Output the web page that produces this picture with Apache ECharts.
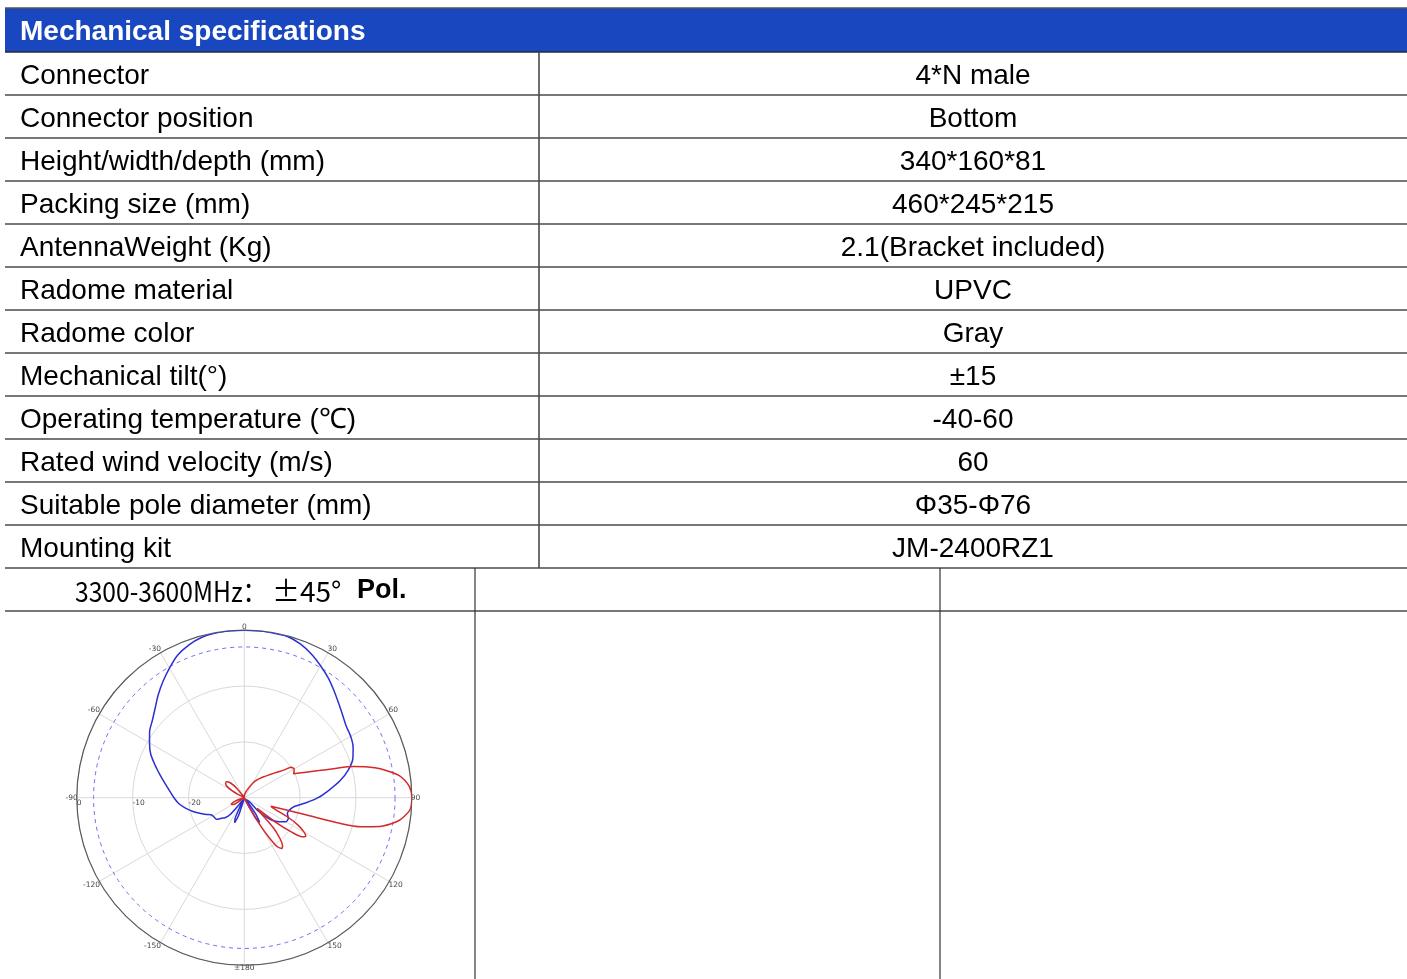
<!DOCTYPE html>
<html>
<head>
<meta charset="utf-8">
<script src="https://cdn.jsdelivr.net/npm/echarts@6/dist/echarts.min.js"></script>
<style>
html,body{margin:0;padding:0;background:#fff;}
#main{width:1407px;height:979px;}
</style>
</head>
<body>
<div id="main"></div>
<script>
// ---------- table text ----------
const tableTitle = 'Mechanical specifications';
const specLabels = [
  'Connector', 'Connector position', 'Height/width/depth (mm)', 'Packing size (mm)',
  'AntennaWeight (Kg)', 'Radome material', 'Radome color', 'Mechanical tilt(°)',
  'Operating temperature (℃)', 'Rated wind velocity (m/s)', 'Suitable pole diameter (mm)', 'Mounting kit'
];
const specValues = [
  '4*N male', 'Bottom', '340*160*81', '460*245*215',
  '2.1(Bracket included)', 'UPVC', 'Gray', '±15',
  '-40-60', '60', 'Φ35-Φ76', 'JM-2400RZ1'
];
const freqBand = '3300-3600MHz：';
const freqPol = '±45°';
const polLabel = 'Pol.';

// ---------- radiation pattern (dB vs azimuth) ----------
const gainMin = -30, gainMax = 0, gainStep = 10, angleStep = 30;
const refLevel = -3; // dashed reference circle (dB)

const blueAngles = [-180,-166,-162,-159,-156,-153,-148,-143,-140,-136,
  -132,-128,-124,-118,-114,-110,-105,-100,-95,-90,
  -85,-80,-75,-70,-65,-60,-55,-50,-45,-40,
  -35,-30,-25,-20,-15,-10,-5,0,5,10,
  15,20,25,30,35,40,45,50,55,60,
  65,70,75,80,85,90,95,100,105,110,
  115,120,125,130,134,138,142,145,148,151,
  154,160,180];
const blueGain = [-30,-29.5,-26.5,-25.2,-26,-29,-29.5,-28.3,-26,-25,
  -24.5,-23.7,-23.6,-23.4,-22.6,-21.7,-20.5,-19.3,-18.2,-17.4,
  -16.6,-15.6,-14.4,-13.0,-11.5,-10.4,-9.3,-8.5,-7.4,-6.0,
  -4.6,-3.2,-1.8,-0.9,-0.3,-0.05,0,0,0,-0.05,
  -0.1,-0.7,-1.6,-2.7,-3.8,-5.0,-6.1,-7.0,-7.7,-8.0,
  -8.5,-9.3,-10.7,-12.6,-14.8,-16.8,-19.0,-20.9,-21.6,-21.8,
  -21.3,-21.4,-22.5,-24.0,-26.5,-29.5,-29.5,-26.5,-24.8,-25.8,
  -28.8,-30,-30];

const redAngles = [-180,-132,-126,-121,-116,-111,-105,-90,-68,-63,
  -58,-53,-48,-43,-38,-33,-20,0,10,20,
  30,36,42,48,52,55,57,60,62,64,
  67,70,72,74,76,78,82,86,90,94,
  97,99,102,104,105,105.5,106.5,108,111,114,
  117,120,122,124,126,128,130,133,136,139,
  141.5,143.5,146,148,150,152,155,165,180];
const redGain = [-30,-30,-29,-27.6,-27.4,-28.2,-29.6,-30,-30,-28.6,
  -26.6,-25.8,-25.7,-26.4,-28,-29.8,-30,-29.6,-29.2,-28.5,
  -27,-26,-25,-23.8,-22.6,-21.4,-20.0,-19.7,-19.9,-20.2,
  -18.4,-15.8,-13.2,-9.8,-7.2,-5.1,-1.9,-0.4,0,-0.2,
  -1.3,-2.4,-5.2,-8.5,-12.3,-18.4,-22.5,-25,-24,-21.5,
  -19.2,-17.6,-17.0,-17.5,-19.5,-23,-27,-26,-22.5,-20.2,
  -19,-18.7,-19.4,-21.5,-24.5,-28,-29.7,-30,-30];

// ---------- layout ----------
const W = 1407, H = 979;
const tableLeft = 5, tableRight = 1407;
const headerTop = 8, headerBottom = 52, rowH = 43;
const colSplit = 539, labelX = 20;
const lineColor = '#4a4a4a';
const polarCenter = [244.3, 797.7], polarRadius = 167.5;
const textFont = '28px "Liberation Sans", Arial, sans-serif';

// angle axis runs -90..270 so the radius axis lies along the -90 spoke (left)
function toAxisAngle(a) { return a < -90 ? a + 360 : a; }
function zip(angles, gains) { return angles.map((a, i) => [gains[i], toAxisAngle(a)]); }

const graphics = [];
graphics.push({ type: 'rect', z: 1, shape: { x: tableLeft, y: headerTop, width: tableRight - tableLeft, height: headerBottom - headerTop }, style: { fill: '#1947bf' } });
graphics.push({ type: 'line', z: 2, shape: { x1: tableLeft, y1: headerTop, x2: tableRight, y2: headerTop }, style: { stroke: '#555', lineWidth: 1.5 } });
graphics.push({ type: 'text', z: 3, x: labelX, y: (headerTop + headerBottom) / 2 + 2.5, style: { text: tableTitle, fill: '#fff', font: 'bold 28px "Liberation Sans", Arial, sans-serif', textAlign: 'left', textVerticalAlign: 'middle' } });

const nRows = specLabels.length;
for (let i = 0; i <= nRows + 1; i++) {
  const y = headerBottom + i * rowH;
  graphics.push({ type: 'line', z: 2, shape: { x1: tableLeft, y1: y, x2: tableRight, y2: y }, style: { stroke: i === 0 ? '#2a2a3a' : lineColor, lineWidth: 1.6 } });
}
const specBottom = headerBottom + nRows * rowH;
graphics.push({ type: 'line', z: 2, shape: { x1: colSplit, y1: headerBottom, x2: colSplit, y2: specBottom }, style: { stroke: lineColor, lineWidth: 1.6 } });
graphics.push({ type: 'line', z: 2, shape: { x1: 475, y1: specBottom, x2: 475, y2: H }, style: { stroke: '#333', lineWidth: 1.2 } });
graphics.push({ type: 'line', z: 2, shape: { x1: 940, y1: specBottom, x2: 940, y2: H }, style: { stroke: '#333', lineWidth: 1.2 } });

specLabels.forEach((t, i) => {
  const yc = headerBottom + i * rowH + rowH / 2 + 2.5;
  graphics.push({ type: 'text', z: 3, x: labelX, y: yc, style: { text: t, fill: '#000', font: textFont, textAlign: 'left', textVerticalAlign: 'middle' } });
  graphics.push({ type: 'text', z: 3, x: (colSplit + tableRight) / 2, y: yc, style: { text: specValues[i], fill: '#000', font: textFont, textAlign: 'center', textVerticalAlign: 'middle' } });
});
const freqY = specBottom + rowH / 2 + 1.5;
graphics.push({ type: 'text', z: 3, x: 75, y: freqY, scaleX: 0.88, style: { text: freqBand, fill: '#000', font: '28px "Noto Sans CJK SC", sans-serif', textAlign: 'left', textVerticalAlign: 'middle' } });
graphics.push({ type: 'text', z: 3, x: 272, y: freqY, style: { text: freqPol, fill: '#000', font: '28px "Noto Sans CJK SC", sans-serif', textAlign: 'left', textVerticalAlign: 'middle' } });
graphics.push({ type: 'text', z: 3, x: 357, y: freqY, style: { text: polLabel, fill: '#000', font: 'bold 27px "Liberation Sans", Arial, sans-serif', textAlign: 'left', textVerticalAlign: 'middle' } });

function angleFmt(v) {
  if (v === 270) return '';
  if (v === 180) return '±180';
  return String(v > 180 ? v - 360 : v);
}

const refRadius = polarRadius * (refLevel - gainMin) / (gainMax - gainMin);

const option = {
  backgroundColor: '#fff',
  animation: false,
  graphic: graphics,
  polar: [
    { center: polarCenter, radius: polarRadius },
    { center: polarCenter, radius: refRadius }
  ],
  angleAxis: [
    {
      polarIndex: 0, type: 'value', min: -90, max: 270, interval: angleStep, startAngle: 180, clockwise: true,
      axisLine: { show: true, lineStyle: { color: '#5a5a5a', width: 1.2 } },
      axisTick: { show: false },
      axisLabel: { margin: -1, fontSize: 7.5, color: '#444', fontFamily: 'DejaVu Sans', formatter: angleFmt },
      splitLine: { show: true, lineStyle: { color: '#d9d9d9', width: 1 } }
    },
    {
      polarIndex: 1, type: 'value', min: -90, max: 270, startAngle: 180, clockwise: true,
      axisLine: { show: true, lineStyle: { color: '#6f6fee', width: 1, type: [4, 4] } },
      axisTick: { show: false }, axisLabel: { show: false }, splitLine: { show: false }
    }
  ],
  radiusAxis: [
    {
      polarIndex: 0, type: 'value', min: gainMin, max: gainMax, interval: gainStep,
      axisLine: { show: false }, axisTick: { show: false },
      axisLabel: { margin: 1, align: 'left', fontSize: 7.5, color: '#444', fontFamily: 'DejaVu Sans', formatter: v => (v === gainMin ? '' : String(v)) },
      splitLine: { show: true, lineStyle: { color: '#d9d9d9', width: 1 } }
    },
    { polarIndex: 1, type: 'value', min: gainMin, max: gainMax, show: false }
  ],
  series: [
    { type: 'line', coordinateSystem: 'polar', polarIndex: 0, data: zip(blueAngles, blueGain), showSymbol: false, smooth: 0.25, lineStyle: { color: '#2c2fd2', width: 1.5 }, z: 5 },
    { type: 'line', coordinateSystem: 'polar', polarIndex: 0, data: zip(redAngles, redGain), showSymbol: false, smooth: 0.25, lineStyle: { color: '#d42a2a', width: 1.5 }, z: 6 }
  ]
};
const chart = echarts.init(document.getElementById('main'));
chart.setOption(option);
</script>
</body>
</html>
